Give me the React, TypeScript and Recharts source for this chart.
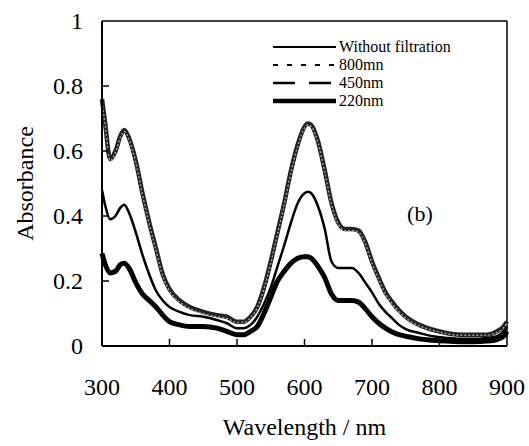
import React from 'react';
import {
  LineChart,
  Line,
  XAxis,
  YAxis,
  ReferenceLine,
  ReferenceDot
} from 'recharts';

// wavelength grid (nm)
const wavelengths = [
  300, 305, 312, 320, 327, 333, 340, 350, 360, 370, 380, 390, 400, 415, 430, 450, 470, 485,
  500, 510, 520, 530, 540, 550, 560, 570, 580, 590, 600, 605, 610, 620, 630, 640, 650, 660,
  670, 680, 690, 700, 710, 720, 730, 740, 750, 770, 790, 810, 830, 850, 870, 885, 895, 900
];

const withoutFiltration = [
  0.76, 0.68, 0.575, 0.6, 0.645, 0.665, 0.64, 0.57, 0.47, 0.38, 0.3, 0.22, 0.175, 0.14, 0.12, 0.105, 0.095, 0.09,
  0.075, 0.075, 0.09, 0.12, 0.18, 0.26, 0.35, 0.44, 0.54, 0.62, 0.675, 0.685, 0.68, 0.63, 0.54, 0.44, 0.38, 0.36,
  0.36, 0.355, 0.32, 0.26, 0.21, 0.165, 0.135, 0.11, 0.09, 0.065, 0.05, 0.04, 0.035, 0.035, 0.035, 0.045, 0.06, 0.075
];

const filter800 = [
  0.75, 0.675, 0.57, 0.595, 0.64, 0.66, 0.635, 0.565, 0.465, 0.375, 0.295, 0.215, 0.17, 0.135, 0.115, 0.1, 0.09, 0.085,
  0.072, 0.072, 0.087, 0.117, 0.176, 0.255, 0.345, 0.435, 0.535, 0.615, 0.67, 0.68, 0.675, 0.625, 0.535, 0.435, 0.375, 0.355,
  0.355, 0.35, 0.315, 0.255, 0.205, 0.16, 0.13, 0.105, 0.086, 0.062, 0.048, 0.038, 0.033, 0.033, 0.033, 0.042, 0.056, 0.07
];

const filter450 = [
  0.48, 0.43, 0.39, 0.4, 0.425, 0.435, 0.41, 0.35, 0.28, 0.22, 0.17, 0.14, 0.12, 0.105, 0.095, 0.09, 0.08, 0.07,
  0.055, 0.055, 0.065, 0.09, 0.13, 0.18, 0.245, 0.31, 0.38, 0.44, 0.47, 0.475, 0.47, 0.43, 0.36, 0.26, 0.24, 0.24,
  0.24, 0.225, 0.195, 0.165, 0.13, 0.105, 0.085, 0.065, 0.052, 0.04, 0.03, 0.025, 0.022, 0.022, 0.025, 0.03, 0.045, 0.06
];

const filter220 = [
  0.285, 0.25, 0.225, 0.23, 0.25, 0.255, 0.24, 0.195, 0.16, 0.14, 0.12, 0.095, 0.075, 0.065, 0.06, 0.06, 0.055, 0.045,
  0.035, 0.035, 0.045, 0.06, 0.1, 0.15, 0.2, 0.23, 0.255, 0.27, 0.275, 0.275, 0.27, 0.245, 0.21, 0.16, 0.14, 0.14,
  0.14, 0.135, 0.115, 0.09, 0.07, 0.055, 0.043, 0.035, 0.03, 0.022, 0.018, 0.015, 0.013, 0.013, 0.015, 0.02, 0.03, 0.045
];

const xTicks = [300, 400, 500, 600, 700, 800, 900];
const yTicks = [0, 0.2, 0.4, 0.6, 0.8, 1];
const legendNames = ['Without filtration', '800mn', '450nm', '220nm'];

const data = wavelengths.map((w, i) => ({
  w,
  none: withoutFiltration[i],
  f800: filter800[i],
  f450: filter450[i],
  f220: filter220[i]
}));

const serif = "'Liberation Serif', 'Times New Roman', serif";

// legend line styles, same order as legendNames
const legendStyles = [
  { width: 2, dash: undefined },
  { width: 2, dash: '5 9' },
  { width: 2.5, dash: '22 14' },
  { width: 4.5, dash: undefined }
];

function YTick(props: any) {
  const { x, y, payload } = props;
  const v = payload.value;
  return (
    <g>
      <text x={x} y={y} dy="0.35em" textAnchor="end" fontSize={24} fontFamily={serif} fill="#000">
        {String(v)}
      </text>
      {v > 0 && v < 1 && (
        <line x1={x + 19} x2={x + 26} y1={y} y2={y} stroke="#000" strokeWidth={1.5} />
      )}
    </g>
  );
}

function XTick(props: any) {
  const { x, y, payload } = props;
  const v = payload.value;
  return (
    <g>
      <text x={x} y={y} dy="0.71em" textAnchor="middle" fontSize={24} fontFamily={serif} fill="#000">
        {String(v)}
      </text>
      {v > 300 && v < 900 && (
        <line x1={x} x2={x} y1={y - 32} y2={y - 39} stroke="#000" strokeWidth={1.5} />
      )}
    </g>
  );
}

function LegendBox() {
  return (
    <svg width={220} height={80} style={{ position: 'absolute', left: 270, top: 37 }}>
      {legendNames.map((name, i) => {
        const cy = 10 + i * 18;
        const st = legendStyles[i];
        return (
          <g key={name}>
            <line x1={3} x2={66} y1={cy} y2={cy} stroke="#000" strokeWidth={st.width} strokeDasharray={st.dash} />
            <text x={69} y={cy} dy="0.33em" fontSize={16} fontFamily={serif} fill="#000">
              {name}
            </text>
          </g>
        );
      })}
    </svg>
  );
}

export default function App() {
  return (
    <div style={{ position: 'absolute', left: 0, top: 0, width: 529, height: 446, background: '#fff' }}>
      <LineChart width={529} height={446} data={data} margin={{ top: 21, right: 22, left: 0, bottom: 0 }}>
        <XAxis
          type="number"
          dataKey="w"
          domain={[300, 900]}
          ticks={xTicks}
          height={100}
          tickSize={0}
          tickMargin={32}
          tick={<XTick />}
          axisLine={{ stroke: '#000', strokeWidth: 2 }}
          label={{ value: 'Wavelength / nm', position: 'insideBottom', offset: 11, fontSize: 24, fontFamily: serif, fill: '#000' }}
        />
        <YAxis
          type="number"
          domain={[0, 1]}
          ticks={yTicks}
          width={102}
          tickSize={0}
          tickMargin={19}
          tick={<YTick />}
          axisLine={{ stroke: '#000', strokeWidth: 2 }}
          label={{ value: 'Absorbance', angle: -90, position: 'insideLeft', offset: 24, fontSize: 24, fontFamily: serif, fill: '#000', style: { textAnchor: 'middle' } }}
        />
        <ReferenceLine y={1} stroke="#000" strokeWidth={1.5} />
        <ReferenceLine x={900} stroke="#000" strokeWidth={1.5} />
        <Line type="monotone" dataKey="f220" name="220nm" stroke="#000" strokeWidth={5} dot={false} isAnimationActive={false} />
        <Line type="monotone" dataKey="f450" name="450nm" stroke="#000" strokeWidth={2.5} dot={false} isAnimationActive={false} />
        <Line type="monotone" dataKey="none" name="Without filtration" stroke="#222" strokeWidth={4.5} dot={false} isAnimationActive={false} />
        <Line type="monotone" dataKey="f800" name="800mn" stroke="#9a9a9a" strokeWidth={1.5} strokeDasharray="2 2" dot={false} isAnimationActive={false} />
        <ReferenceDot x={771} y={0.41} r={0} fill="none" stroke="none" label={{ value: '(b)', position: 'center', fontSize: 22, fontFamily: serif, fill: '#000' }} />
      </LineChart>
      <LegendBox />
    </div>
  );
}
